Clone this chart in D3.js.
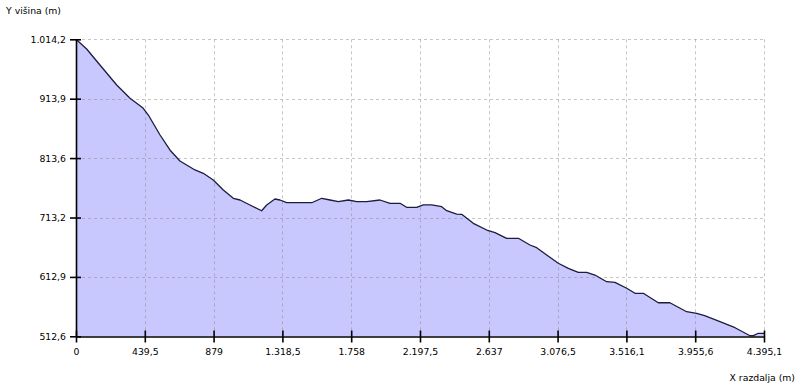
<!DOCTYPE html>
<html>
<head>
<meta charset="utf-8">
<script src="https://cdn.jsdelivr.net/npm/d3@7"></script>
<style>
  html, body { margin: 0; padding: 0; background: #ffffff; }
  svg { display: block; }
  text { font-family: "DejaVu Sans", Verdana, sans-serif; font-size: 9.3px; fill: #000; }
</style>
</head>
<body>
<svg id="chart" width="800" height="387"></svg>
<script>
// Data (distance in m, elevation in m)
const distances = [0, 68, 153, 260, 345, 426, 462, 537, 600, 664, 760, 813, 877, 941, 1005, 1048, 1111, 1186, 1218, 1271, 1303, 1346, 1506, 1570, 1623, 1676, 1740, 1793, 1857, 1942, 2006, 2070, 2112, 2176, 2219, 2272, 2336, 2368, 2432, 2464, 2538, 2624, 2677, 2751, 2826, 2900, 2943, 3007, 3081, 3145, 3209, 3262, 3315, 3390, 3443, 3518, 3571, 3624, 3720, 3794, 3901, 3965, 4016, 4114, 4210, 4306, 4327, 4359, 4395.1];
const elevations = [1014.2, 997.8, 970.8, 937.0, 914.5, 898.7, 886.3, 852.6, 827.3, 808.7, 793.5, 787.9, 776.6, 759.7, 745.7, 742.8, 734.4, 724.7, 734.4, 744.5, 742.8, 738.2, 738.2, 745.7, 742.8, 739.9, 742.8, 739.9, 739.9, 742.8, 737.2, 737.2, 730.5, 730.5, 734.4, 734.4, 731.5, 724.7, 719.1, 718.6, 703.4, 692.1, 687.6, 678.1, 678.1, 666.8, 662.2, 649.9, 635.9, 627.4, 620.7, 620.7, 616.1, 604.8, 603.8, 593.7, 585.2, 585.2, 569.3, 569.3, 554.1, 551.4, 547.4, 537.3, 527.1, 513.6, 513.6, 517.7, 517.7];

const xTickValues = [0, 439.5, 879, 1318.5, 1758, 2197.5, 2637, 3076.5, 3516.1, 3955.6, 4395.1];
const xTickLabels = ["0", "439,5", "879", "1.318,5", "1.758", "2.197,5", "2.637", "3.076,5", "3.516,1", "3.955,6", "4.395,1"];
const yTickValues = [512.6, 612.9, 713.2, 813.6, 913.9, 1014.2];
const yTickLabels = ["512,6", "612,9", "713,2", "813,6", "913,9", "1.014,2"];

const xTitle = "X razdalja (m)";
const yTitle = "Y višina (m)";

const data = distances.map((d, i) => ({ d: d, v: elevations[i] }));

const svg = d3.select("#chart");
const plotLeft = 76, plotRight = 764, plotTop = 39.3, plotBottom = 336.3;

const x = d3.scaleLinear().domain([0, 4395.1]).range([plotLeft, plotRight]);
const y = d3.scaleLinear().domain([512.6, 1014.2]).range([plotBottom, plotTop]);

// Area fill
const area = d3.area().x(p => x(p.d)).y0(y(512.6)).y1(p => y(p.v));
svg.append("path").datum(data)
  .attr("d", area)
  .attr("fill", "#c8c8ff");

// Grid lines (dashed)
const grid = svg.append("g")
  .attr("stroke", "#808080")
  .attr("stroke-opacity", 0.45)
  .attr("stroke-width", 1)
  .attr("stroke-dasharray", "3,3");
grid.selectAll("line.gx").data(xTickValues.slice(1)).enter().append("line")
  .attr("x1", d => Math.round(x(d)) + 0.5).attr("x2", d => Math.round(x(d)) + 0.5)
  .attr("y1", plotTop).attr("y2", plotBottom);
grid.selectAll("line.gy").data(yTickValues.slice(1)).enter().append("line")
  .attr("y1", d => Math.round(y(d)) + 0.5).attr("y2", d => Math.round(y(d)) + 0.5)
  .attr("x1", plotLeft).attr("x2", plotRight);

// Profile line
const line = d3.line().x(p => x(p.d)).y(p => y(p.v));
svg.append("path").datum(data)
  .attr("d", line)
  .attr("fill", "none")
  .attr("stroke", "#1c1c3c")
  .attr("stroke-width", 1.3)
  .attr("stroke-linejoin", "round");

// Axes
const xAxis = d3.axisBottom(x)
  .tickValues(xTickValues)
  .tickFormat((d, i) => xTickLabels[i])
  .tickSizeInner(6).tickSizeOuter(0).tickPadding(6);
const gx = svg.append("g").attr("transform", `translate(0,${Math.round(plotBottom) + 0.5})`).call(xAxis);
gx.select(".domain").attr("stroke", "#000").attr("stroke-width", 1.6);
gx.selectAll(".tick line").attr("stroke", "#000").attr("stroke-width", 1.6).attr("y1", -6);
gx.selectAll(".tick text").attr("font-family", "DejaVu Sans").attr("font-size", 9.3).attr("fill", "#000");

const yAxis = d3.axisLeft(y)
  .tickValues(yTickValues)
  .tickFormat((d, i) => yTickLabels[i])
  .tickSizeInner(6).tickSizeOuter(0).tickPadding(4);
const gy = svg.append("g").attr("transform", `translate(${plotLeft},0)`).call(yAxis);
gy.select(".domain").attr("stroke", "#000").attr("stroke-width", 1.6);
gy.selectAll(".tick line").attr("stroke", "#000").attr("stroke-width", 1.6).attr("x1", 5);
gy.selectAll(".tick text").attr("font-family", "DejaVu Sans").attr("font-size", 9.3).attr("fill", "#000");

// Axis titles
svg.append("text").attr("x", 6).attr("y", 14).text(yTitle);
svg.append("text").attr("x", 795).attr("y", 381).attr("text-anchor", "end").text(xTitle);
</script>
</body>
</html>
